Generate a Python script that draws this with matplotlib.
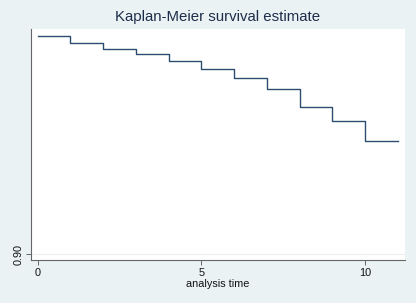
import matplotlib.pyplot as plt

plt.rcParams['font.family'] = ['Liberation Sans', 'DejaVu Sans']

# step times and survival levels (Kaplan-Meier estimate)
times = [0, 1, 2, 3, 4, 5, 6, 7, 8, 9, 10, 11]
surv = [1.0, 0.9968, 0.9938, 0.9916, 0.9884, 0.9846, 0.9808, 0.9755, 0.9675, 0.9608, 0.9516, 0.9516]
xticks = [0, 5, 10]
yticks = [0.90]
ytick_labels = ["0.90"]

bg = "#eaf2f3"
fig = plt.figure(figsize=(4.16, 3.03), dpi=100, facecolor=bg)
ax = fig.add_axes([0.0745, 0.1419, 0.899, 0.7624])
ax.set_facecolor("white")

ax.step(times, surv, where="post", color="#2b4d70", lw=1.0)

ax.set_xlim(-0.2, 11.22)
ax.set_ylim(0.8973, 1.0031)
ax.set_xticks(xticks)
ax.set_xticklabels([str(t) for t in xticks], fontsize=7.8, color="#111111")
ax.set_yticks(yticks)
ax.set_yticklabels(ytick_labels, rotation=90, va="center", fontsize=7.8, color="#111111")
ax.axhline(0.90, color="#eeeeee", lw=0.8, zorder=0)

for s in ["top", "right"]:
    ax.spines[s].set_visible(False)
for s in ["left", "bottom"]:
    ax.spines[s].set_color("#666666")
    ax.spines[s].set_linewidth(0.8)
ax.tick_params(length=3.5, width=0.7, color="#666666", pad=2)

ax.set_xlabel("analysis time", fontsize=7.8, color="#111111", labelpad=1)
fig.text(0.524, 0.944, "Kaplan-Meier survival estimate", ha="center", va="center",
         fontsize=10.8, color="#1e2d4a")

fig.savefig("out.png", dpi=100, facecolor=bg)
